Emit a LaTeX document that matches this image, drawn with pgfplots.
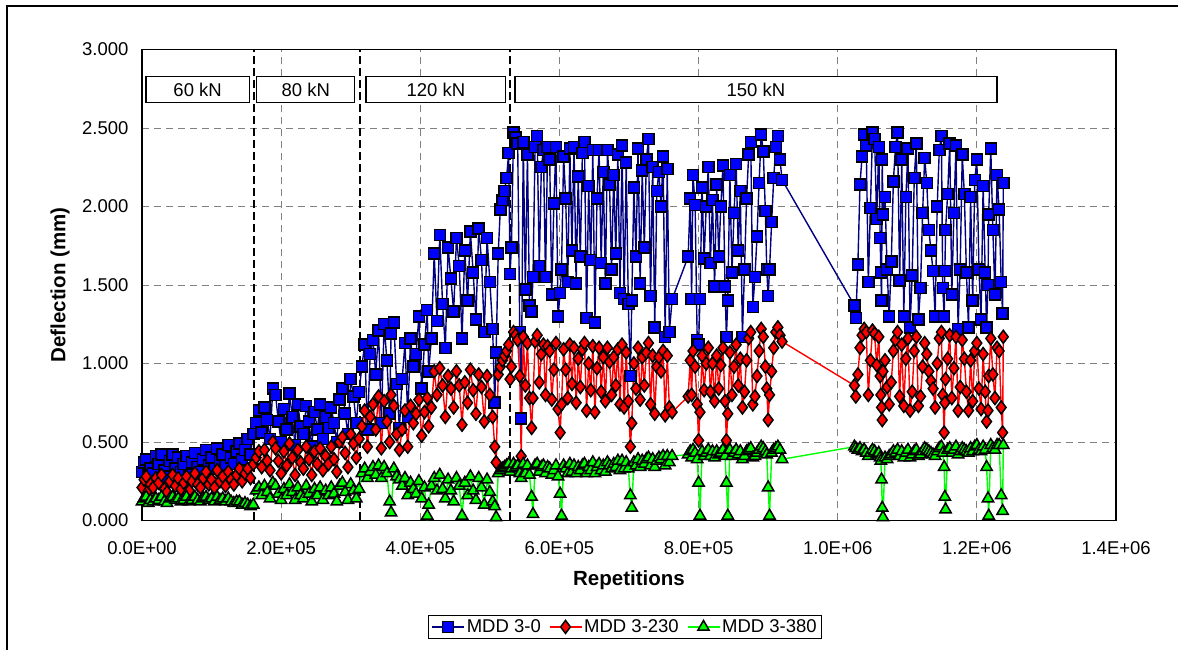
\documentclass[border=0pt]{standalone}
\usepackage{fontspec}
\setmainfont{Liberation Sans}
\usepackage{pgfplots}
\usepackage{pgfplotstable}
\pgfplotsset{compat=1.18}
\definecolor{navyline}{RGB}{0,0,128}
\definecolor{bfill}{RGB}{0,0,255}
\definecolor{rfill}{RGB}{255,0,0}
\definecolor{gfill}{RGB}{0,255,0}
\newcommand{\lbl}{\fontsize{18.5bp}{22bp}\selectfont}
\newcommand{\axlbl}{\fontsize{20.5bp}{24bp}\selectfont\bfseries}

% x in thousands of repetitions; b = MDD 3-0, r = MDD 3-230, g = MDD 3-380 (mm)
\pgfplotstableread{
x b r g
0 0.31 0.21 0.12
3 0.37 0.26 0.14
6 0.39 0.28 0.15
9 0.29 0.19 0.11
12 0.33 0.23 0.13
16 0.30 0.21 0.12
20 0.41 0.27 0.14
24 0.36 0.24 0.13
28 0.42 0.29 0.15
32 0.32 0.20 0.12
36 0.28 0.18 0.11
40 0.38 0.25 0.14
44 0.42 0.29 0.15
48 0.33 0.22 0.13
52 0.40 0.27 0.14
56 0.31 0.20 0.12
60 0.36 0.24 0.13
64 0.41 0.28 0.15
68 0.29 0.19 0.12
72 0.37 0.25 0.13
76 0.43 0.30 0.15
80 0.34 0.23 0.13
84 0.31 0.21 0.12
88 0.39 0.27 0.14
92 0.45 0.31 0.15
96 0.35 0.23 0.13
100 0.40 0.26 0.14
104 0.33 0.21 0.12
108 0.46 0.32 0.15
112 0.38 0.25 0.13
116 0.42 0.28 0.14
120 0.35 0.22 0.12
124 0.48 0.31 0.14
128 0.40 0.26 0.12
132 0.36 0.23 0.11
136 0.44 0.29 0.12
140 0.49 0.33 0.12
144 0.39 0.25 0.10
148 0.45 0.30 0.11
152 0.52 0.33 0.10
156 0.42 0.27 0.09
160 0.55 0.36 0.10
164 0.62 0.40 0.19
168 0.70 0.44 0.21
172 0.56 0.34 0.16
176 0.72 0.45 0.22
180 0.64 0.38 0.18
184 0.52 0.32 0.14
188 0.84 0.50 0.24
192 0.80 0.46 0.22
196 0.63 0.38 0.17
200 0.50 0.30 0.13
204 0.71 0.44 0.20
208 0.58 0.35 0.16
212 0.81 0.49 0.23
216 0.66 0.40 0.18
220 0.48 0.29 0.13
224 0.74 0.45 0.21
228 0.60 0.37 0.16
232 0.55 0.33 0.14
236 0.73 0.47 0.22
240 0.63 0.39 0.17
244 0.47 0.29 0.12
248 0.69 0.44 0.20
252 0.58 0.36 0.16
256 0.74 0.46 0.21
260 0.52 0.32 0.13
264 0.66 0.41 0.19
268 0.59 0.36 0.16
272 0.72 0.47 0.21
276 0.62 0.39 0.17
280 0.50 0.31 0.12
284 0.77 0.50 0.22
288 0.84 0.53 0.24
292 0.68 0.43 0.18
296 0.55 0.34 0.13
300 0.90 0.55 0.23
304 0.79 0.49 0.19
308 0.62 0.40 0.14
312 0.82 0.52 0.20
316 0.98 0.60 0.30
320 1.12 0.70 0.33
324 0.58 0.47 0.27
328 1.06 0.66 0.31
332 1.15 0.74 0.34
336 0.93 0.58 0.29
340 1.21 0.79 0.35
344 0.62 0.46 0.27
348 1.25 0.76 0.34
352 1.02 0.63 0.30
356 0.68 0.50 0.12
358 1.19 0.80 0.05
362 1.26 0.73 0.33
366 0.87 0.55 0.28
370 0.59 0.45 0.26
374 0.90 0.58 0.22
378 1.13 0.70 0.27
382 0.66 0.47 0.16
386 1.16 0.73 0.24
390 0.98 0.62 0.20
394 1.06 0.68 0.17
398 1.30 0.77 0.25
402 0.84 0.54 0.14
406 1.12 0.69 0.21
410 1.34 0.78 0.03
412 0.95 0.60 0.10
416 1.16 0.72 0.22
420 1.70 0.95 0.27
424 1.27 0.80 0.19
428 1.82 0.97 0.29
432 1.38 0.86 0.20
436 1.10 0.66 0.14
440 1.74 0.92 0.26
444 1.54 0.84 0.19
448 1.33 0.72 0.12
452 1.80 0.95 0.27
456 1.62 0.86 0.22
460 1.16 0.61 0.03
464 1.72 0.88 0.24
468 1.40 0.75 0.16
472 1.84 0.96 0.28
476 1.58 0.83 0.19
480 1.28 0.68 0.13
484 1.86 0.93 0.27
488 1.66 0.85 0.21
492 1.20 0.63 0.10
496 1.80 0.92 0.26
500 1.52 0.80 0.18
504 1.22 0.66 0.12
507 0.75 0.47 0.09
509 1.07 0.37 0.02
512 1.70 0.93 0.30
515 1.98 0.98 0.32
518 2.04 1.02 0.33
521 2.10 1.05 0.34
524 2.18 1.08 0.35
527 2.34 1.12 0.36
529 1.57 0.90 0.31
531 1.74 0.98 0.33
534 2.47 1.20 0.36
537 2.44 1.18 0.34
540 2.40 1.15 0.35
543 1.20 0.92 0.30
545 0.65 0.41 0.27
548 2.41 1.17 0.36
551 1.47 0.86 0.30
554 2.33 1.13 0.35
557 1.37 0.78 0.29
560 1.33 0.59 0.15
562 1.55 0.78 0.04
565 2.38 1.14 0.35
568 2.45 1.18 0.36
571 1.62 0.88 0.31
574 2.25 1.06 0.34
577 2.36 1.12 0.35
580 1.55 0.80 0.30
583 2.38 1.11 0.34
586 2.30 1.08 0.33
589 1.44 0.77 0.29
592 2.02 0.96 0.32
595 2.38 1.13 0.35
598 1.30 0.71 0.28
601 1.45 0.56 0.17
603 1.60 0.74 0.03
606 2.32 1.09 0.35
609 2.05 0.96 0.33
612 1.52 0.78 0.30
615 2.37 1.12 0.36
618 1.72 0.87 0.31
621 2.38 1.10 0.35
624 1.51 0.75 0.30
627 2.19 1.03 0.34
630 1.68 0.85 0.32
633 2.34 1.09 0.35
636 2.41 1.13 0.36
639 1.29 0.70 0.30
642 2.13 1.00 0.34
645 1.66 0.83 0.32
648 2.36 1.11 0.37
651 1.26 0.69 0.30
654 2.05 0.97 0.34
657 2.36 1.10 0.36
660 1.64 0.82 0.32
663 2.22 1.04 0.35
666 1.51 0.76 0.31
669 2.36 1.10 0.37
672 2.14 1.01 0.35
675 1.60 0.80 0.33
678 2.20 1.04 0.36
681 1.70 0.86 0.34
684 2.33 1.09 0.38
687 1.45 0.74 0.32
690 2.39 1.12 0.38
693 1.41 0.72 0.33
696 2.28 1.07 0.37
699 1.38 0.76 0.33
702 0.92 0.47 0.16
704 1.40 0.62 0.08
707 2.12 1.00 0.37
710 1.68 0.84 0.35
713 2.37 1.10 0.39
716 1.51 0.77 0.34
719 2.23 1.04 0.38
722 1.74 0.86 0.36
725 2.30 1.07 0.39
728 2.43 1.13 0.40
731 1.43 0.74 0.35
734 2.25 1.05 0.39
737 1.23 0.68 0.34
740 2.10 0.98 0.38
743 2.22 1.04 0.40
746 2.00 0.95 0.39
749 2.32 1.08 0.41
752 1.17 0.67 0.35
755 2.24 1.05 0.41
758 1.20 0.72 0.37
762 1.41 0.69 0.41
785 1.68 0.79 0.42
788 2.05 1.02 0.44
790 1.41 0.80 0.40
792 2.20 1.08 0.45
795 2.01 0.98 0.43
798 1.15 0.74 0.39
800 1.12 0.51 0.24
802 1.41 0.69 0.03
805 2.12 1.05 0.44
808 1.67 0.83 0.41
811 2.00 1.00 0.43
814 2.25 1.10 0.45
817 1.64 0.82 0.41
820 2.04 1.00 0.44
823 1.49 0.76 0.40
826 2.14 1.05 0.44
829 1.68 0.84 0.42
832 2.00 0.99 0.43
835 2.26 1.10 0.45
838 1.49 0.76 0.41
840 1.17 0.51 0.24
842 1.40 0.68 0.03
845 2.20 1.07 0.45
848 1.58 0.80 0.41
851 1.96 0.98 0.43
854 2.27 1.12 0.45
857 1.72 0.86 0.42
860 2.10 1.03 0.44
863 1.17 0.72 0.39
866 1.60 0.82 0.41
869 2.05 1.02 0.44
872 2.33 1.16 0.45
875 2.41 1.20 0.46
878 1.36 0.74 0.40
881 1.55 0.79 0.41
884 1.81 0.92 0.43
887 2.15 1.08 0.45
890 2.46 1.22 0.47
893 2.35 1.17 0.46
896 1.97 0.98 0.44
898 1.60 0.84 0.42
900 1.43 0.64 0.21
902 1.60 0.80 0.03
905 1.90 0.95 0.43
908 2.18 1.10 0.45
911 2.38 1.20 0.46
914 2.45 1.23 0.47
917 2.30 1.18 0.45
920 2.17 1.14 0.39
1024 1.37 0.86 0.47
1026 1.29 0.79 0.46
1029 1.63 0.93 0.45
1032 2.14 1.10 0.46
1035 2.32 1.18 0.44
1038 2.46 1.22 0.45
1041 2.39 1.20 0.43
1044 1.52 0.80 0.41
1047 1.99 1.02 0.43
1050 2.47 1.21 0.45
1053 2.43 1.19 0.44
1056 1.92 0.99 0.42
1059 2.38 1.17 0.43
1061 1.80 0.92 0.40
1062 1.58 0.80 0.38
1063 1.40 0.72 0.26
1064 2.30 0.64 0.08
1065 1.95 0.95 0.02
1068 2.06 1.02 0.40
1071 1.60 0.85 0.39
1074 1.30 0.74 0.41
1077 1.65 0.88 0.42
1080 2.16 1.08 0.44
1083 2.38 1.15 0.43
1086 2.47 1.20 0.45
1089 1.53 0.79 0.41
1092 2.30 1.12 0.44
1095 1.30 0.73 0.40
1098 2.06 1.03 0.43
1101 2.37 1.16 0.45
1104 1.23 0.70 0.40
1107 1.56 0.82 0.42
1110 2.18 1.08 0.44
1113 2.40 1.17 0.45
1116 1.28 0.73 0.41
1119 1.48 0.79 0.42
1122 1.96 0.98 0.44
1125 2.31 1.13 0.46
1128 2.15 1.06 0.45
1131 1.85 0.95 0.44
1134 1.72 0.89 0.43
1137 1.59 0.84 0.42
1140 1.30 0.72 0.41
1143 2.00 1.00 0.44
1146 2.36 1.16 0.46
1149 2.45 1.20 0.47
1151 1.48 0.80 0.43
1153 1.30 0.56 0.34
1154 1.59 0.75 0.15
1155 1.85 0.90 0.07
1158 2.08 1.03 0.45
1161 2.40 1.18 0.46
1164 1.44 0.78 0.43
1167 1.96 0.97 0.45
1170 2.39 1.17 0.47
1173 1.22 0.70 0.42
1176 1.60 0.85 0.44
1179 2.33 1.15 0.46
1182 2.08 1.03 0.45
1185 1.58 0.82 0.44
1188 1.23 0.70 0.43
1191 2.06 1.02 0.46
1194 1.40 0.76 0.44
1197 2.17 1.08 0.47
1200 2.30 1.13 0.48
1203 1.60 0.84 0.45
1206 1.28 0.71 0.44
1209 2.13 1.06 0.47
1212 1.58 0.82 0.45
1214 1.23 0.63 0.34
1216 1.50 0.70 0.14
1217 1.95 0.92 0.03
1220 2.37 1.16 0.48
1223 1.85 0.93 0.46
1226 1.44 0.78 0.45
1229 2.20 1.10 0.48
1232 1.98 1.08 0.48
1235 1.52 0.72 0.16
1237 1.32 0.56 0.06
1238 2.15 1.17 0.48
}\mdd

\begin{document}
\begin{tikzpicture}
\useasboundingbox (0bp,0bp) rectangle (1178bp,650bp);
\draw[line width=2bp] (6.5bp,0bp) -- (6.5bp,643.5bp) -- (1178bp,643.5bp);
\begin{axis}[
  at={(142bp,129.5bp)}, anchor=south west,
  scale only axis, width=974bp, height=471bp,
  xmin=0, xmax=1400, ymin=0, ymax=3,
  xtick={0,200,400,600,800,1000,1200,1400},
  xticklabels={0.0E+00,2.0E+05,4.0E+05,6.0E+05,8.0E+05,1.0E+06,1.2E+06,1.4E+06},
  ytick={0,0.5,1,1.5,2,2.5,3},
  yticklabel style={/pgf/number format/fixed, /pgf/number format/fixed zerofill,
    /pgf/number format/precision=3, /pgf/number format/assume math mode=true, xshift=-10bp},
  tick label style={font=\lbl},
  xticklabel style={yshift=-18bp},
  tick style={draw=none},
  grid=major,
  major grid style={gray, dash pattern=on 7bp off 5bp, line width=0.9bp},
  axis line style={line width=1.5bp},
  clip=false,
  xlabel={Repetitions}, ylabel={Deflection (mm)},
  xlabel style={at={(axis description cs:0.5,-0.126)}, anchor=center, font=\axlbl},
  ylabel style={at={(axis description cs:-0.084,0.5)}, anchor=center, font=\axlbl},
  legend style={at={(axis description cs:0.496,-0.226)}, anchor=center,
    legend columns=3, draw=black, line width=1bp, font=\lbl,
    /tikz/every even column/.append style={column sep=6bp}},
  legend image code/.code={\draw[mark repeat=2,mark phase=2] plot coordinates {(0bp,0bp) (16bp,0bp) (32bp,0bp)};},
]
\draw[black, line width=1.5bp, dash pattern=on 8bp off 4bp] (axis cs:161,0) -- (axis cs:161,3);
\draw[black, line width=1.5bp, dash pattern=on 8bp off 4bp] (axis cs:313,0) -- (axis cs:313,3);
\draw[black, line width=1.5bp, dash pattern=on 8bp off 4bp] (axis cs:529,0) -- (axis cs:529,3);

\addplot[navyline, line width=1.4bp, mark=square*, mark size=5.5bp,
  mark options={fill=bfill, draw=black, line width=1.5bp, solid}] table[x=x,y=b]{\mdd};
\addlegendentry{MDD 3-0}
\addplot[rfill, line width=1.4bp, mark=diamond*, mark size=6.5bp,
  mark options={fill=rfill, draw=black, line width=1.5bp, solid}] table[x=x,y=r]{\mdd};
\addlegendentry{MDD 3-230}
\addplot[gfill, line width=1.4bp, mark=triangle*, mark size=6.5bp,
  mark options={fill=gfill, draw=black, line width=1.5bp, solid}] table[x=x,y=g]{\mdd};
\addlegendentry{MDD 3-380}

\draw[fill=white, line width=1.2bp] (axis cs:5.7,2.66) rectangle (axis cs:155,2.83);
\node[font=\lbl] at (axis cs:80,2.745) {60 kN};
\draw[fill=white, line width=1.2bp] (axis cs:165,2.66) rectangle (axis cs:306,2.83);
\node[font=\lbl] at (axis cs:235.5,2.745) {80 kN};
\draw[fill=white, line width=1.2bp] (axis cs:322,2.66) rectangle (axis cs:523,2.83);
\node[font=\lbl] at (axis cs:422.5,2.745) {120 kN};
\draw[fill=white, line width=1.2bp] (axis cs:536,2.66) rectangle (axis cs:1229,2.83);
\node[font=\lbl] at (axis cs:882.5,2.745) {150 kN};
\end{axis}
\end{tikzpicture}
\end{document}
